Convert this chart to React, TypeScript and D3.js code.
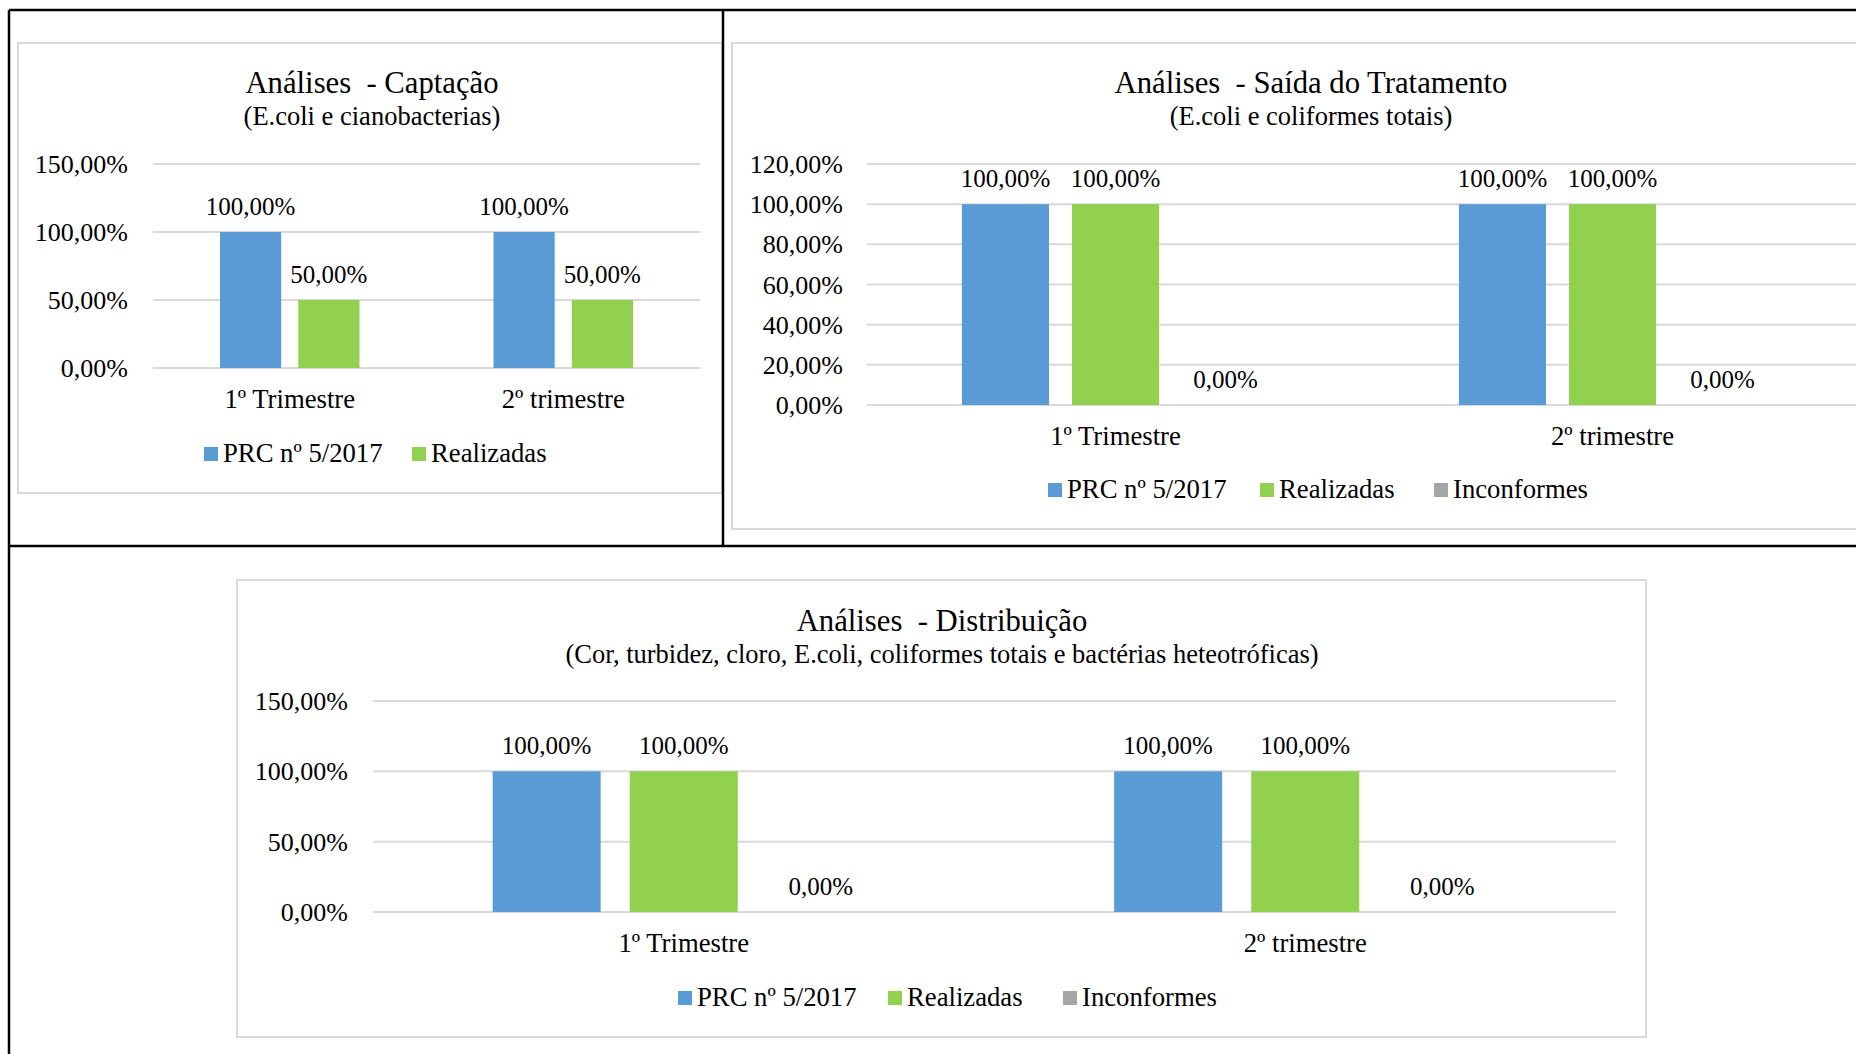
import React from "react";
import * as d3 from "d3";

// ---------- data ----------
const categories = ["1º Trimestre", "2º trimestre"];
const seriesNames = ["PRC nº 5/2017", "Realizadas", "Inconformes"];
const seriesColors = ["#5B9BD5", "#92D050", "#A5A5A5"];

const captacaoPRC = [1.0, 1.0];
const captacaoRealizadas = [0.5, 0.5];
const captacaoTicks = [0, 0.5, 1.0, 1.5];

const saidaPRC = [1.0, 1.0];
const saidaRealizadas = [1.0, 1.0];
const saidaInconformes = [0, 0];
const saidaTicks = [0, 0.2, 0.4, 0.6, 0.8, 1.0, 1.2];

const distPRC = [1.0, 1.0];
const distRealizadas = [1.0, 1.0];
const distInconformes = [0, 0];
const distTicks = [0, 0.5, 1.0, 1.5];

const titles = ["Análises  - Captação", "Análises  - Saída do Tratamento", "Análises  - Distribuição"];
const subtitles = [
  "(E.coli e cianobacterias)",
  "(E.coli e coliformes totais)",
  "(Cor, turbidez, cloro, E.coli, coliformes totais e bactérias heteotróficas)",
];

// ---------- helpers ----------
const fmt = (v: number) => (v * 100).toFixed(2).replace(".", ",") + "%";
const FONT = "'Liberation Serif', 'Times New Roman', serif";

type ChartCfg = {
  box: [number, number, number, number];
  title: string;
  subtitle: string;
  titleX: number;
  titleY: number;
  subtitleY: number;
  plotX: [number, number];
  plotY: [number, number];
  domainMax: number;
  ticks: number[];
  tickLabelX: number;
  series: { name: string; color: string; values: number[] }[];
  groupPad: number;
  barPad: number;
  legendY: number;
  legendX: number[];
};

function Chart({ c }: { c: ChartCfg }) {
  const y = d3.scaleLinear().domain([0, c.domainMax]).range(c.plotY);
  const x0 = d3
    .scaleBand<string>()
    .domain(categories)
    .range(c.plotX)
    .paddingInner(c.groupPad)
    .paddingOuter(c.groupPad / 2);
  const x1 = d3
    .scaleBand<string>()
    .domain(c.series.map((s) => s.name))
    .range([0, x0.bandwidth()])
    .paddingInner(c.barPad)
    .paddingOuter(0);
  const [bx0, by0, bx1, by1] = c.box;
  return (
    <g fontFamily={FONT} fill="#000">
      <rect x={bx0} y={by0} width={bx1 - bx0} height={by1 - by0} fill="#fff" stroke="#D9D9D9" strokeWidth={2} />
      <text x={c.titleX} y={c.titleY} textAnchor="middle" fontSize={30.7} style={{ whiteSpace: "pre" }}>
        {c.title}
      </text>
      <text x={c.titleX} y={c.subtitleY} textAnchor="middle" fontSize={26.5}>
        {c.subtitle}
      </text>
      {c.ticks.map((t) => (
        <g key={t}>
          <line x1={c.plotX[0]} x2={c.plotX[1]} y1={y(t)} y2={y(t)} stroke="#D9D9D9" strokeWidth={2} />
          <text x={c.tickLabelX} y={y(t)} dy="0.35em" textAnchor="end" fontSize={26}>
            {fmt(t)}
          </text>
        </g>
      ))}
      {categories.map((cat, i) => (
        <g key={cat}>
          {c.series.map((s) => {
            const bx = (x0(cat) ?? 0) + (x1(s.name) ?? 0);
            const v = s.values[i];
            return (
              <g key={s.name}>
                <rect x={bx} y={y(v)} width={x1.bandwidth()} height={y(0) - y(v)} fill={s.color} />
                <text x={bx + x1.bandwidth() / 2} y={y(v) - 17} textAnchor="middle" fontSize={25}>
                  {fmt(v)}
                </text>
              </g>
            );
          })}
          <text x={(x0(cat) ?? 0) + x0.bandwidth() / 2} y={y(0) + 40} textAnchor="middle" fontSize={26.7}>
            {cat}
          </text>
        </g>
      ))}
      {c.series.map((s, i) => (
        <g key={s.name}>
          <rect x={c.legendX[i]} y={c.legendY - 15} width={14} height={14} fill={s.color} />
          <text x={c.legendX[i] + 19} y={c.legendY} fontSize={26.7}>
            {s.name}
          </text>
        </g>
      ))}
    </g>
  );
}

const charts: ChartCfg[] = [
  {
    box: [18, 43, 722, 493],
    title: titles[0],
    subtitle: subtitles[0],
    titleX: 372,
    titleY: 93,
    subtitleY: 125,
    plotX: [153, 700],
    plotY: [368, 164],
    domainMax: 1.5,
    ticks: captacaoTicks,
    tickLabelX: 128,
    series: [
      { name: seriesNames[0], color: seriesColors[0], values: captacaoPRC },
      { name: seriesNames[1], color: seriesColors[1], values: captacaoRealizadas },
    ],
    groupPad: 0.49,
    barPad: 0.218,
    legendY: 462,
    legendX: [204, 412],
  },
  {
    box: [732, 43, 1880, 529],
    title: titles[1],
    subtitle: subtitles[1],
    titleX: 1311,
    titleY: 93,
    subtitleY: 125,
    plotX: [867, 1861],
    plotY: [405, 164],
    domainMax: 1.2,
    ticks: saidaTicks,
    tickLabelX: 843,
    series: [
      { name: seriesNames[0], color: seriesColors[0], values: saidaPRC },
      { name: seriesNames[1], color: seriesColors[1], values: saidaRealizadas },
      { name: seriesNames[2], color: seriesColors[2], values: saidaInconformes },
    ],
    groupPad: 0.382,
    barPad: 0.209,
    legendY: 498,
    legendX: [1048, 1260, 1434],
  },
  {
    box: [237, 580, 1646, 1037],
    title: titles[2],
    subtitle: subtitles[2],
    titleX: 942,
    titleY: 631,
    subtitleY: 663,
    plotX: [373, 1616],
    plotY: [912, 701],
    domainMax: 1.5,
    ticks: distTicks,
    tickLabelX: 348,
    series: [
      { name: seriesNames[0], color: seriesColors[0], values: distPRC },
      { name: seriesNames[1], color: seriesColors[1], values: distRealizadas },
      { name: seriesNames[2], color: seriesColors[2], values: distInconformes },
    ],
    groupPad: 0.385,
    barPad: 0.212,
    legendY: 1006,
    legendX: [678, 888, 1063],
  },
];

export default function App() {
  return (
    <svg
      width={1856}
      height={1054}
      style={{ position: "absolute", left: 0, top: 0, background: "#fff" }}
    >
      <rect x={0} y={0} width={1856} height={1054} fill="#fff" />
      {charts.map((c, i) => (
        <Chart key={i} c={c} />
      ))}
      <g stroke="#000" strokeWidth={2.5}>
        <line x1={9} x2={1856} y1={10} y2={10} />
        <line x1={9} x2={9} y1={10} y2={1054} />
        <line x1={723} x2={723} y1={10} y2={546} />
        <line x1={9} x2={1856} y1={546} y2={546} />
      </g>
    </svg>
  );
}
